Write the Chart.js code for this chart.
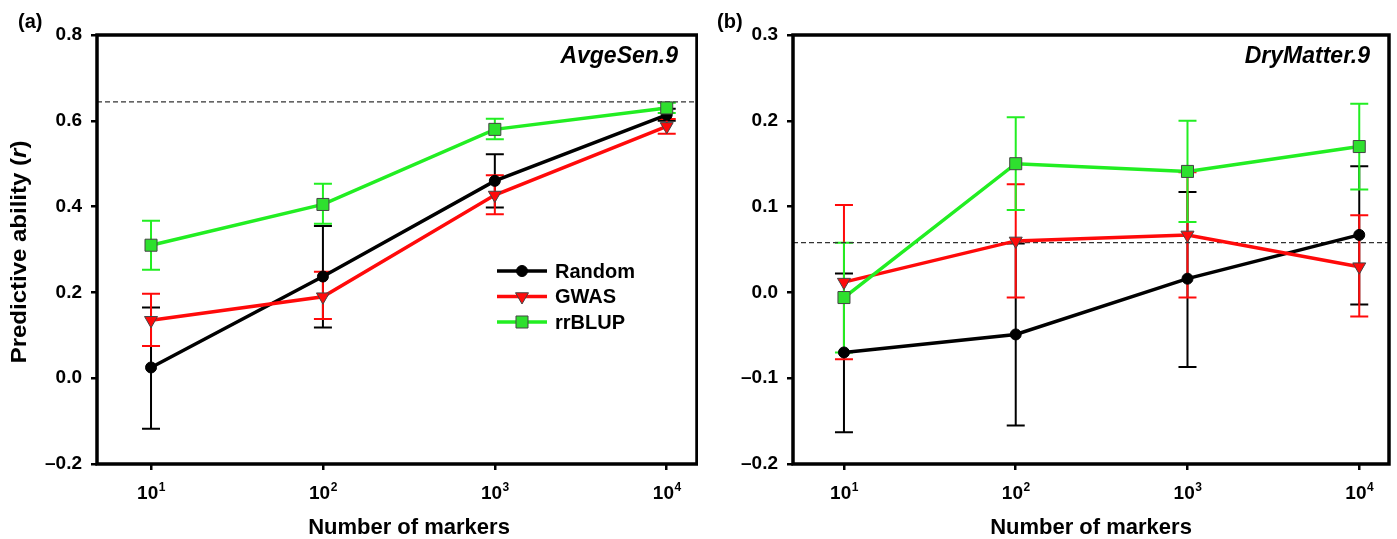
<!DOCTYPE html>
<html>
<head>
<meta charset="utf-8">
<script src="https://cdn.jsdelivr.net/npm/chart.js@4/dist/chart.umd.min.js"></script>
<style>
  body { margin: 0; background: #fff; }
  .wrap { display: flex; width: 1397px; height: 539px; }
  .panel { position: relative; height: 539px; }
</style>
</head>
<body>
<div class="wrap">
  <div class="panel" style="width:698px"><canvas id="chartA"></canvas></div>
  <div class="panel" style="width:699px"><canvas id="chartB"></canvas></div>
</div>
<script>
// --- datos ---
const markers = [10, 100, 1000, 10000];
const markerExp = ['1', '2', '3', '4'];

// panel (a) AvgeSen.9
const randomA   = [0.025, 0.237, 0.460, 0.614];
const randomAHi = [0.165, 0.355, 0.522, 0.628];
const randomALo = [-0.118, 0.118, 0.398, 0.600];
const gwasA     = [0.135, 0.190, 0.427, 0.587];
const gwasAHi   = [0.197, 0.248, 0.473, 0.604];
const gwasALo   = [0.075, 0.138, 0.382, 0.570];
const rrblupA   = [0.310, 0.405, 0.580, 0.630];
const rrblupAHi = [0.367, 0.453, 0.605, 0.642];
const rrblupALo = [0.253, 0.360, 0.557, 0.618];
const refLineA  = 0.644;
const yTicksA   = [-0.2, 0.0, 0.2, 0.4, 0.6, 0.8];

// panel (b) DryMatter.9
const randomB   = [-0.070, -0.049, 0.016, 0.067];
const randomBHi = [0.022, 0.057, 0.117, 0.147];
const randomBLo = [-0.163, -0.155, -0.087, -0.014];
const gwasB     = [0.012, 0.060, 0.067, 0.030];
const gwasBHi   = [0.102, 0.126, 0.140, 0.090];
const gwasBLo   = [-0.078, -0.006, -0.006, -0.028];
const rrblupB   = [-0.006, 0.150, 0.141, 0.170];
const rrblupBHi = [0.058, 0.204, 0.200, 0.220];
const rrblupBLo = [-0.070, 0.096, 0.082, 0.120];
const refLineB  = 0.058;
const yTicksB   = [-0.2, -0.1, 0.0, 0.1, 0.2, 0.3];

const seriesNames = ['Random', 'GWAS', 'rrBLUP'];

const GREEN = '#22ee22';
const RED = '#ff0a0a';
const FAM = '"Liberation Sans", Arial, sans-serif';
const f = (size, style) => (style || 'bold') + ' ' + size + 'px ' + FAM;

function pts(vals) {
  return vals.map((v, i) => ({ x: markers[i], y: v }));
}

function fmtTick(v) {
  if (Math.abs(v) < 1e-9) return '0.0';
  return v < 0 ? '\u2013' + Math.abs(v).toFixed(1) : v.toFixed(1);
}

// barras de error + marco + textos
const decorPlugin = {
  id: 'decor',
  beforeDatasetsDraw(chart) {
    const ctx = chart.ctx;
    const xs = chart.scales.x, ys = chart.scales.y;
    chart.data.datasets.forEach(ds => {
      if (!ds.errHi) return;
      ctx.save();
      ctx.strokeStyle = ds.errColor;
      ctx.lineWidth = 2;
      ds.data.forEach((p, i) => {
        const x = xs.getPixelForValue(p.x);
        const yh = ys.getPixelForValue(ds.errHi[i]);
        const yl = ys.getPixelForValue(ds.errLo[i]);
        ctx.beginPath();
        ctx.moveTo(x, yh); ctx.lineTo(x, yl);
        ctx.moveTo(x - 9, yh); ctx.lineTo(x + 9, yh);
        ctx.moveTo(x - 9, yl); ctx.lineTo(x + 9, yl);
        ctx.stroke();
      });
      ctx.restore();
    });
  },
  afterDraw(chart) {
    const ctx = chart.ctx;
    const a = chart.chartArea;
    const o = chart.options.plugins.decor;
    const xs = chart.scales.x;
    ctx.save();
    // marco
    ctx.strokeStyle = '#000';
    ctx.lineWidth = 3.5;
    ctx.strokeRect(a.left, a.top, a.right - a.left, a.bottom - a.top);

    // etiquetas del eje x: 10^n
    ctx.fillStyle = '#000';
    ctx.textBaseline = 'alphabetic';
    markers.forEach((m, i) => {
      const x = xs.getPixelForValue(m);
      ctx.font = f(19);
      const w1 = ctx.measureText('10').width;
      ctx.font = f(12);
      const w2 = ctx.measureText(markerExp[i]).width;
      const x0 = x - (w1 + w2) / 2;
      ctx.font = f(19);
      ctx.textAlign = 'left';
      ctx.fillText('10', x0, a.bottom + 35);
      ctx.font = f(12);
      ctx.fillText(markerExp[i], x0 + w1 + 0.5, a.bottom + 27);
    });

    // título eje x
    ctx.font = f(22);
    ctx.textAlign = 'center';
    ctx.fillText('Number of markers', (a.left + a.right) / 2 + o.titleDx, a.bottom + 70);

    // letra del panel
    ctx.font = f(20);
    ctx.textAlign = 'left';
    ctx.fillText(o.letter, o.letterX, 28);

    // rasgo
    ctx.font = f(23, 'italic bold');
    ctx.textAlign = 'right';
    ctx.fillText(o.trait, a.right - 19, a.top + 28);

    // título eje y con r en cursiva
    if (o.yTitle) {
      ctx.translate(26, 252);
      ctx.rotate(-Math.PI / 2);
      ctx.scale(1, 0.9);
      const parts = [['Predictive ability (', f(24)], ['r', f(24, 'italic bold')], [')', f(24)]];
      let total = 0;
      parts.forEach(p => { ctx.font = p[1]; total += ctx.measureText(p[0]).width; });
      let x = -total / 2;
      ctx.textAlign = 'left';
      parts.forEach(p => { ctx.font = p[1]; ctx.fillText(p[0], x, 0); x += ctx.measureText(p[0]).width; });
    }
    ctx.restore();

    // leyenda
    if (o.legend) {
      ctx.save();
      chart.data.datasets.filter(d => d.errHi).forEach((ds, i) => {
        const y = o.legend.y + i * 25.5;
        const x0 = o.legend.x;
        ctx.strokeStyle = ds.borderColor;
        ctx.lineWidth = ds.borderWidth;
        ctx.beginPath(); ctx.moveTo(x0, y); ctx.lineTo(x0 + 50, y); ctx.stroke();
        ctx.fillStyle = ds.pointBackgroundColor;
        ctx.strokeStyle = ds.pointBorderColor;
        ctx.lineWidth = ds.pointBorderWidth;
        Chart.helpers.drawPoint(ctx, {
          pointStyle: ds.pointStyle, radius: ds.pointRadius,
          rotation: ds.pointRotation || 0, borderWidth: ds.pointBorderWidth
        }, x0 + 25, y);
        ctx.fillStyle = '#000';
        ctx.font = f(20);
        ctx.textAlign = 'left';
        ctx.textBaseline = 'middle';
        ctx.fillText(ds.label, x0 + 58, y + 1);
      });
      ctx.restore();
    }
  }
};

function makeChart(id, cfg) {
  const datasets = [
    {
      label: seriesNames[0], data: pts(cfg.random), errHi: cfg.randomHi, errLo: cfg.randomLo,
      errColor: '#000', borderColor: '#000', borderWidth: 3.5,
      pointStyle: 'circle', pointRadius: 5.5, pointBackgroundColor: '#000',
      pointBorderColor: '#000', pointBorderWidth: 1, order: 3
    },
    {
      label: seriesNames[1], data: pts(cfg.gwas), errHi: cfg.gwasHi, errLo: cfg.gwasLo,
      errColor: RED, borderColor: RED, borderWidth: 3.5,
      pointStyle: 'triangle', pointRotation: 180, pointRadius: 7.5, pointBackgroundColor: RED,
      pointBorderColor: '#444', pointBorderWidth: 1, order: 2
    },
    {
      label: seriesNames[2], data: pts(cfg.rrblup), errHi: cfg.rrblupHi, errLo: cfg.rrblupLo,
      errColor: GREEN, borderColor: GREEN, borderWidth: 3.5,
      pointStyle: 'rect', pointRadius: 8.5, pointBackgroundColor: '#2ee02e',
      pointBorderColor: '#444', pointBorderWidth: 1, order: 1
    },
    {
      label: 'ref', data: [{ x: cfg.xMin, y: cfg.ref }, { x: cfg.xMax, y: cfg.ref }],
      borderColor: '#333', borderWidth: 1.2, borderDash: [5, 3], pointRadius: 0, order: 4
    }
  ];

  return new Chart(document.getElementById(id), {
    type: 'line',
    data: { datasets },
    plugins: [decorPlugin],
    options: {
      responsive: true,
      maintainAspectRatio: false,
      animation: false,
      layout: { autoPadding: false, padding: { top: cfg.padTop, right: cfg.padRight, left: 0, bottom: 0 } },
      plugins: {
        legend: { display: false },
        tooltip: { enabled: false },
        decor: { letter: cfg.letter, letterX: cfg.letterX, trait: cfg.trait, yTitle: cfg.yTitle, legend: cfg.legend, titleDx: cfg.titleDx }
      },
      scales: {
        x: {
          type: 'logarithmic', min: cfg.xMin, max: cfg.xMax,
          afterBuildTicks: ax => { ax.ticks = markers.map(v => ({ value: v })); },
          afterFit: ax => { ax.height = 539 - cfg.bottom; },
          ticks: { display: false },
          grid: { drawOnChartArea: false, drawTicks: true, tickLength: 6, color: '#000', lineWidth: 2.5 },
          border: { display: false }
        },
        y: {
          min: cfg.yTicks[0], max: cfg.yTicks[cfg.yTicks.length - 1],
          afterBuildTicks: ax => { ax.ticks = cfg.yTicks.map(v => ({ value: v })); },
          afterFit: ax => { ax.width = cfg.left; },
          ticks: { color: '#000', font: { family: FAM, size: 19, weight: 'bold' }, padding: 9, callback: fmtTick },
          grid: { drawOnChartArea: false, drawTicks: true, tickLength: 6, color: '#000', lineWidth: 2.5 },
          border: { display: false }
        }
      }
    }
  });
}

makeChart('chartA', {
  random: randomA, randomHi: randomAHi, randomLo: randomALo,
  gwas: gwasA, gwasHi: gwasAHi, gwasLo: gwasALo,
  rrblup: rrblupA, rrblupHi: rrblupAHi, rrblupLo: rrblupALo,
  ref: refLineA, yTicks: yTicksA,
  xMin: 4.85, xMax: 15000,
  left: 97, padTop: 35, padRight: 1, bottom: 464,
  letter: '(a)', letterX: 18, trait: 'AvgeSen.9', yTitle: true, titleDx: 12,
  legend: { x: 497, y: 271 }
});

makeChart('chartB', {
  random: randomB, randomHi: randomBHi, randomLo: randomBLo,
  gwas: gwasB, gwasHi: gwasBHi, gwasLo: gwasBLo,
  rrblup: rrblupB, rrblupHi: rrblupBHi, rrblupLo: rrblupBLo,
  ref: refLineB, yTicks: yTicksB,
  xMin: 5.05, xMax: 14900,
  left: 95, padTop: 35, padRight: 8, bottom: 464,
  letter: '(b)', letterX: 19, trait: 'DryMatter.9', yTitle: false, titleDx: 0,
  legend: null
});
</script>
</body>
</html>
